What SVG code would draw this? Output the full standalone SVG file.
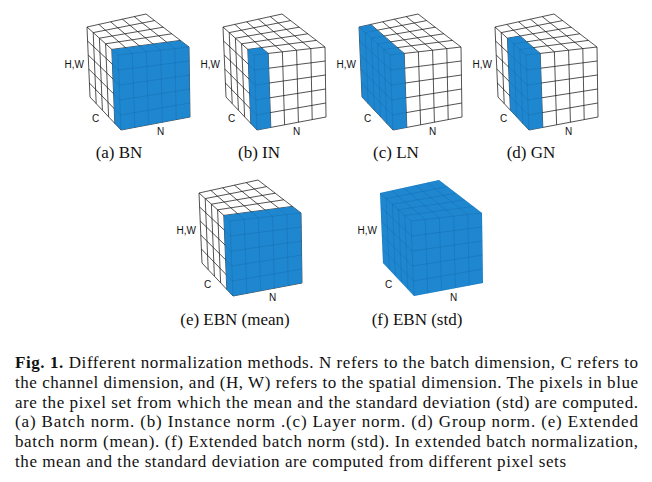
<svg xmlns="http://www.w3.org/2000/svg" xmlns:xlink="http://www.w3.org/1999/xlink" width="652" height="482" viewBox="0 0 652 482">
<style>
.g{fill:none;stroke:#1a1a1a;stroke-width:0.75}
.f{fill:none;stroke:#0c5a92;stroke-width:0.6;stroke-opacity:0.4}
.b{fill:#1f87d0}
.w{fill:#fff}
.ax{font-family:"Liberation Sans",Arial,sans-serif;font-size:10px;fill:#111}
.cap{font-family:"Liberation Serif","Times New Roman",serif;font-size:17px;fill:#111;text-anchor:middle}
.p{font-family:"Liberation Serif","Times New Roman",serif;font-size:17px;fill:#111}
</style>
<defs>
<path id="grid" d="M118 55L121 130M132.2 53.4L134.8 127.4M146.4 51.8L148.6 124.8M160.6 50.2L162.4 122.2M174.8 48.6L176.2 119.6M189 47L190 117M118 55L189 47M118.6 70L189.2 61M119.2 85L189.4 75M119.8 100L189.6 89M120.4 115L189.8 103M121 130L190 117M87 27L90 97M93.2 32.6L96.2 103.6M99.4 38.2L102.4 110.2M105.6 43.8L108.6 116.8M111.8 49.4L114.8 123.4M87 27L118 55M87.6 41L118.6 70M88.2 55L119.2 85M88.8 69L119.8 100M89.4 83L120.4 115M90 97L121 130M98.8 24.4L132.2 53.4M110.6 21.8L146.4 51.8M122.4 19.2L160.6 50.2M134.2 16.6L174.8 48.6M146 14L189 47M87 27L146 14M93.2 32.6L154.6 20.6M99.4 38.2L163.2 27.2M105.6 43.8L171.8 33.8M111.8 49.4L180.4 40.4"/>
<polygon id="sil" points="87,27 146,14 189,47 190,117 121,130 90,97"/>
<polygon id="bBN" points="111.8,49.4 180.4,40.4 189,47 190,117 121,130 114.8,123.4"/>
<polygon id="bIN" points="111.8,49.4 125.5,47.6 132.2,53.4 134.8,127.4 121,130 114.8,123.4"/>
<polygon id="bLN" points="87,27 98.8,24.4 132.2,53.4 134.8,127.4 121,130 90,97"/>
<polygon id="bGN" points="99.4,38.2 112.2,36 132.2,53.4 134.8,127.4 121,130 102.4,110.2"/>
<clipPath id="cBN"><use href="#bBN"/></clipPath>
<clipPath id="cIN"><use href="#bIN"/></clipPath>
<clipPath id="cLN"><use href="#bLN"/></clipPath>
<clipPath id="cGN"><use href="#bGN"/></clipPath>
<clipPath id="cALL"><use href="#sil"/></clipPath>
<g id="lbl" class="ax">
<text x="84" y="68" text-anchor="end">H,W</text>
<text x="92" y="122">C</text>
<text x="157" y="135">N</text>
</g>
</defs>

<g id="panel-a">
<g transform="translate(0,0)">
<use href="#sil" class="w"/><use href="#grid" class="g"/><use href="#bBN" class="b"/><use href="#grid" class="f" clip-path="url(#cBN)"/><use href="#lbl"/>
</g>
<text class="cap" x="119" y="158">(a) BN</text>
</g>

<g id="panel-b">
<g transform="translate(136,0)">
<use href="#sil" class="w"/><use href="#grid" class="g"/><use href="#bIN" class="b"/><use href="#grid" class="f" clip-path="url(#cIN)"/><use href="#lbl"/>
</g>
<text class="cap" x="259" y="158">(b) IN</text>
</g>

<g id="panel-c">
<g transform="translate(272,0)">
<use href="#sil" class="w"/><use href="#grid" class="g"/><use href="#bLN" class="b"/><use href="#grid" class="f" clip-path="url(#cLN)"/><use href="#lbl"/>
</g>
<text class="cap" x="396" y="158">(c) LN</text>
</g>

<g id="panel-d">
<g transform="translate(408,0)">
<use href="#sil" class="w"/><use href="#grid" class="g"/><use href="#bGN" class="b"/><use href="#grid" class="f" clip-path="url(#cGN)"/><use href="#lbl"/>
</g>
<text class="cap" x="531" y="158">(d) GN</text>
</g>

<g id="panel-e">
<g transform="translate(112,166)">
<use href="#sil" class="w"/><use href="#grid" class="g"/><use href="#bBN" class="b"/><use href="#grid" class="f" clip-path="url(#cBN)"/><use href="#lbl"/>
</g>
<text class="cap" x="235" y="325">(e) EBN (mean)</text>
</g>

<g id="panel-f">
<g transform="translate(293,166)">
<use href="#sil" class="b"/><use href="#grid" class="f" clip-path="url(#cALL)"/><use href="#lbl"/>
</g>
<text class="cap" x="417" y="325">(f) EBN (std)</text>
</g>

<g id="caption" class="p">
<text x="15" y="368" textLength="623" lengthAdjust="spacing"><tspan font-weight="bold">Fig. 1.</tspan> Different normalization methods. N refers to the batch dimension, C refers to</text>
<text x="15" y="388" textLength="623" lengthAdjust="spacing">the channel dimension, and (H, W) refers to the spatial dimension. The pixels in blue</text>
<text x="15" y="408" textLength="623" lengthAdjust="spacing">are the pixel set from which the mean and the standard deviation (std) are computed.</text>
<text x="15" y="427" textLength="623" lengthAdjust="spacing">(a) Batch norm. (b) Instance norm .(c) Layer norm. (d) Group norm. (e) Extended</text>
<text x="15" y="447" textLength="623" lengthAdjust="spacing">batch norm (mean). (f) Extended batch norm (std). In extended batch normalization,</text>
<text x="15" y="467" textLength="551" lengthAdjust="spacing">the mean and the standard deviation are computed from different pixel sets</text>
</g>
</svg>
